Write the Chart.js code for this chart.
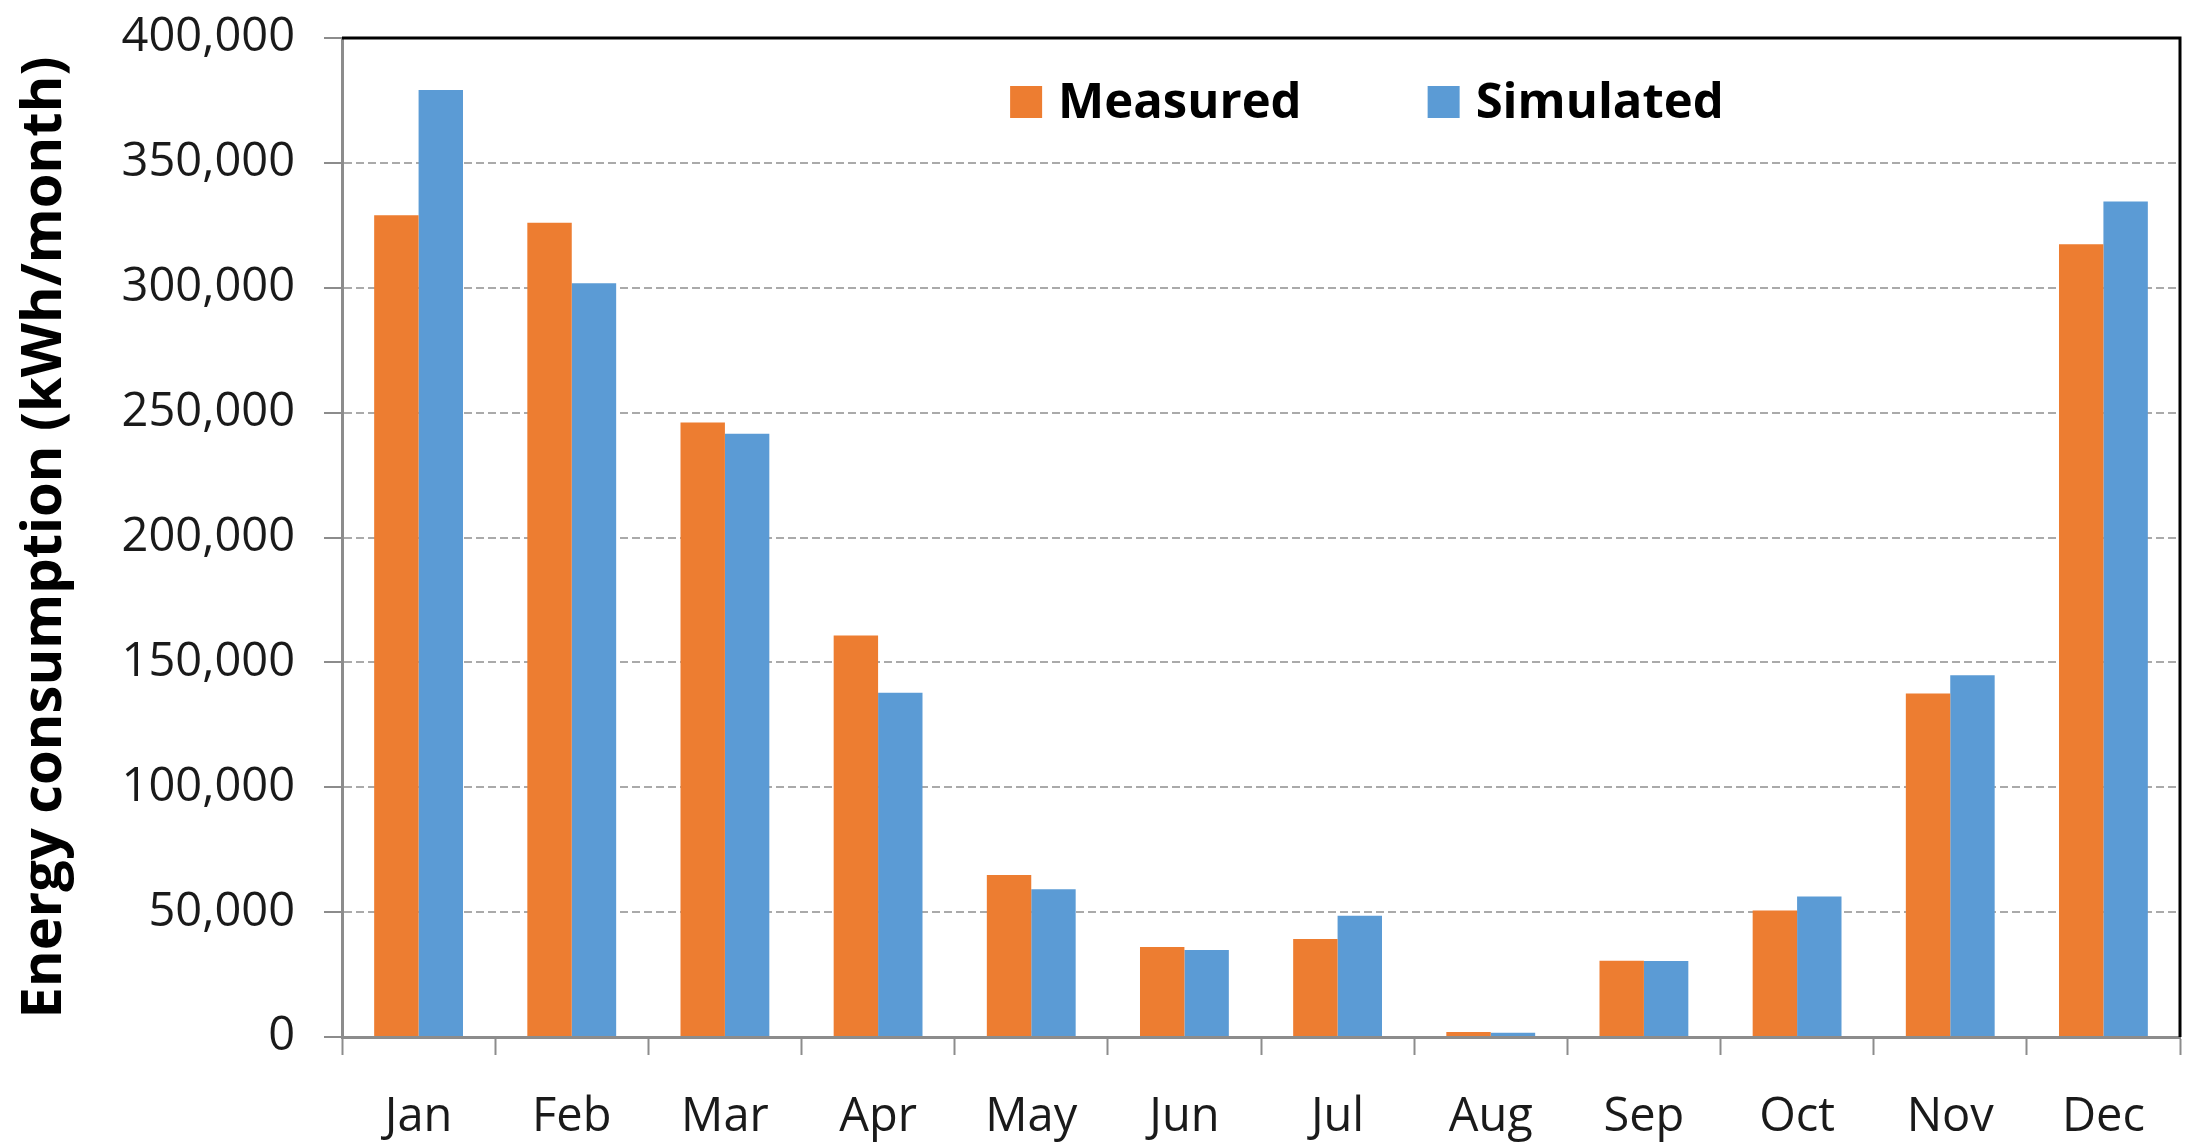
<!DOCTYPE html>
<html>
<head>
<meta charset="UTF-8">
<title>Energy consumption: measured vs simulated</title>
<script src="https://cdn.jsdelivr.net/npm/chart.js@4.4.1/dist/chart.umd.min.js"></script>
<style>
  html, body { margin: 0; padding: 0; background: #fff; }
  #wrap { width: 2204px; height: 1148px; }
</style>
</head>
<body>
<div id="wrap"><canvas id="energyChart" width="2204" height="1148"></canvas></div>
<script>
const months = ["Jan", "Feb", "Mar", "Apr", "May", "Jun", "Jul", "Aug", "Sep", "Oct", "Nov", "Dec"];
const measured = [329000, 326000, 246000, 160800, 64900, 36000, 39200, 2000, 30500, 50700, 137500, 317400];
const simulated = [379200, 301800, 241500, 137800, 59200, 34800, 48500, 1700, 30400, 56300, 144800, 334500];
const yTicks = [0, 50000, 100000, 150000, 200000, 250000, 300000, 350000, 400000];

const ORANGE = "#ED7D31";
const BLUE = "#5B9BD5";
const AXIS_GRAY = "#8c8c8c";
const TEXT = "#1a1a1a";

function formatNumber(value) {
  return new Intl.NumberFormat("en-US").format(value);
}

// black frame on top and right like the Excel plot area
const framePlugin = {
  id: "frame",
  afterDraw(chart) {
    const { ctx, chartArea } = chart;
    ctx.save();
    ctx.strokeStyle = "#000";
    ctx.lineWidth = 3;
    ctx.beginPath();
    ctx.moveTo(chartArea.left, chartArea.top);
    ctx.lineTo(chartArea.right, chartArea.top);
    ctx.lineTo(chartArea.right, chartArea.bottom);
    ctx.stroke();
    ctx.restore();
  },
};

// legend drawn inside the plot area, near the top
const insideLegend = {
  id: "insideLegend",
  afterDraw(chart) {
    const { ctx, chartArea } = chart;
    const box = 32;
    let x = chartArea.left + chartArea.width * 0.3635;
    const y = chartArea.top + 64;
    ctx.save();
    ctx.font = "bold 49px 'Open Sans'";
    ctx.textBaseline = "middle";
    chart.data.datasets.forEach((ds) => {
      ctx.fillStyle = ds.backgroundColor;
      ctx.fillRect(x, y - box / 2, box, box);
      x += box + 16;
      ctx.fillStyle = "#000";
      ctx.fillText(ds.label, x, y + 2);
      x += ctx.measureText(ds.label).width + 126;
    });
    ctx.restore();
  },
};

const canvas = document.getElementById("energyChart");

new Chart(canvas, {
  type: "bar",
  data: {
    labels: months,
    datasets: [
      { label: "Measured", data: measured, backgroundColor: ORANGE, borderWidth: 0 },
      { label: "Simulated", data: simulated, backgroundColor: BLUE, borderWidth: 0 },
    ],
  },
  options: {
    responsive: false,
    animation: false,
    devicePixelRatio: 1,
    layout: { padding: { top: 38, right: 24, left: 0, bottom: 0 } },
    datasets: {
      bar: { barPercentage: 1, categoryPercentage: 0.58 },
    },
    plugins: {
      legend: { display: false },
      tooltip: { enabled: false },
    },
    scales: {
      x: {
        offset: true,
        grid: {
          offset: true,
          drawOnChartArea: false,
          drawTicks: true,
          tickLength: 18,
          tickWidth: 2,
          tickColor: AXIS_GRAY,
        },
        border: { color: AXIS_GRAY, width: 3, z: 1 },
        ticks: {
          color: TEXT,
          padding: 34,
          font: { family: "'Open Sans'", size: 47 },
        },
        afterFit(scale) {
          scale.height = 111;
        },
      },
      y: {
        min: 0,
        max: 400000,
        afterBuildTicks(scale) {
          scale.ticks = yTicks.map((v) => ({ value: v }));
        },
        grid: {
          color: "#aaaaaa",
          lineWidth: 2,
          drawTicks: true,
          tickLength: 18,
          tickWidth: 2,
          tickColor: AXIS_GRAY,
        },
        border: { color: AXIS_GRAY, width: 3, dash: [8, 4], z: 1 },
        ticks: {
          color: TEXT,
          padding: 29,
          font: { family: "'Open Sans'", size: 47 },
          callback(value) {
            return formatNumber(value);
          },
        },
        title: {
          display: true,
          text: "Energy consumption (kWh/month)",
          color: "#000",
          padding: { top: 11, bottom: 0 },
          font: { family: "'Open Sans'", size: 56, weight: "bold" },
        },
        afterFit(scale) {
          scale.width = 342;
          scale.paddingTop = 0;
          scale.paddingBottom = 0;
        },
      },
    },
  },
  plugins: [framePlugin, insideLegend],
});
</script>
</body>
</html>
